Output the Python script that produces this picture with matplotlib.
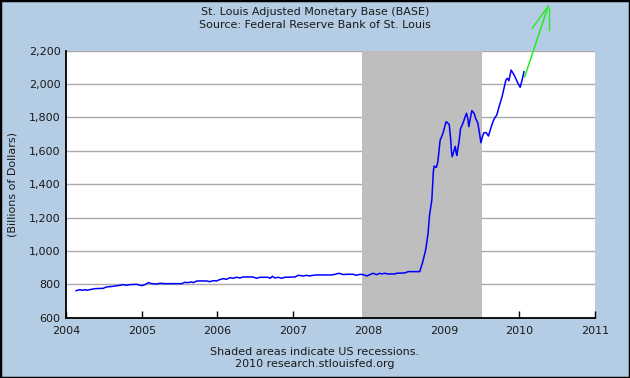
import matplotlib
matplotlib.use("Agg")
import matplotlib.pyplot as plt
from matplotlib.patches import Rectangle

# ---- data ----
years = [2004.13, 2004.18, 2004.21, 2004.25, 2004.27, 2004.31, 2004.38, 2004.49, 2004.53, 2004.62,
         2004.71, 2004.75, 2004.80, 2004.84, 2004.93, 2005.00, 2005.04, 2005.09, 2005.13, 2005.20,
         2005.24, 2005.31, 2005.53, 2005.57, 2005.61, 2005.66, 2005.68, 2005.73, 2005.86, 2005.90,
         2005.95, 2005.99, 2006.03, 2006.08, 2006.12, 2006.17, 2006.21, 2006.25, 2006.30, 2006.34,
         2006.47, 2006.52, 2006.56, 2006.67, 2006.70, 2006.73, 2006.76, 2006.81, 2006.85, 2006.89,
         2007.03, 2007.07, 2007.14, 2007.18, 2007.22, 2007.27, 2007.31, 2007.51, 2007.56, 2007.61,
         2007.67, 2007.71, 2007.80, 2007.84, 2007.89, 2007.93, 2007.98, 2008.02, 2008.06, 2008.11,
         2008.15, 2008.17, 2008.22, 2008.26, 2008.35, 2008.37, 2008.48, 2008.53, 2008.68, 2008.72,
         2008.76, 2008.79, 2008.81, 2008.84, 2008.86, 2008.87, 2008.90, 2008.92, 2008.95, 2008.97,
         2008.99, 2009.01, 2009.03, 2009.07, 2009.09, 2009.10, 2009.11, 2009.13, 2009.15, 2009.16,
         2009.17, 2009.20, 2009.22, 2009.25, 2009.28, 2009.30, 2009.32, 2009.33, 2009.35, 2009.37,
         2009.40, 2009.42, 2009.45, 2009.47, 2009.49, 2009.51, 2009.53, 2009.56, 2009.59, 2009.62,
         2009.65, 2009.67, 2009.70, 2009.73, 2009.77, 2009.82, 2009.84, 2009.86, 2009.89, 2009.93,
         2009.98, 2010.01, 2010.04, 2010.06]
base = [762, 768, 764, 768, 764, 768, 774, 776, 784, 788,
        794, 798, 794, 798, 800, 792, 798, 810, 804, 802,
        806, 804, 804, 812, 810, 814, 810, 820, 820, 816,
        822, 820, 828, 834, 830, 840, 836, 842, 838, 844,
        844, 836, 842, 842, 836, 848, 838, 842, 836, 842,
        844, 854, 850, 854, 850, 854, 856, 856, 860, 866,
        858, 860, 860, 854, 860, 858, 850, 858, 866, 858,
        866, 862, 866, 862, 862, 866, 868, 876, 876, 935,
        1010, 1105, 1215, 1305, 1474, 1508, 1500, 1534, 1663, 1684,
        1708, 1744, 1774, 1758, 1663, 1594, 1564, 1594, 1626, 1594,
        1572, 1652, 1732, 1762, 1802, 1824, 1784, 1744, 1794, 1840,
        1824, 1794, 1764, 1704, 1648, 1684, 1708, 1708, 1688, 1734,
        1774, 1794, 1814, 1863, 1923, 2023, 2033, 2019, 2083, 2053,
        2004, 1980, 2033, 2073]

# hand-drawn green arrow annotation
arrow_years = [2010.07, 2010.38]
arrow_vals = [2043, 2465]
barb_left_years = [2010.17, 2010.38]
barb_left_vals = [2333, 2465]
barb_right_years = [2010.39, 2010.39]
barb_right_vals = [2453, 2323]

recession = (2007.917, 2009.5)
xticks = [2004, 2005, 2006, 2007, 2008, 2009, 2010, 2011]
yticks = [600, 800, 1000, 1200, 1400, 1600, 1800, 2000, 2200]
ytick_labels = ["600", "800", "1,000", "1,200", "1,400", "1,600", "1,800", "2,000", "2,200"]

title1 = "St. Louis Adjusted Monetary Base (BASE)"
title2 = "Source: Federal Reserve Bank of St. Louis"
foot1 = "Shaded areas indicate US recessions."
foot2 = "2010 research.stlouisfed.org"
ylabel = "(Billions of Dollars)"

# ---- figure ----
bg = "#B4CCE4"
txt = "#1a1a1a"
plt.rcParams["font.family"] = ["DejaVu Sans"]
fig = plt.figure(figsize=(6.3, 3.78), dpi=100, facecolor=bg)
ax = fig.add_axes([0.1052, 0.1595, 0.8392, 0.7069])
ax.set_facecolor("white")

ax.set_xlim(2004, 2011)
ax.set_ylim(600, 2200)

for v in yticks[1:]:
    ax.axhline(v, color="#ABABAB", lw=1.0, zorder=1)
ax.axvspan(recession[0], recession[1], color="#BEBEBE", lw=0, zorder=2)

ax.plot(years, base, color="#0000FF", lw=1.1, zorder=3)
ax.plot(arrow_years, arrow_vals, color="#22EE22", lw=1.1, zorder=4, clip_on=False)
ax.plot(barb_left_years, barb_left_vals, color="#22EE22", lw=1.0, zorder=4, clip_on=False)
ax.plot(barb_right_years, barb_right_vals, color="#22EE22", lw=1.0, zorder=4, clip_on=False)

ax.set_xticks(xticks)
ax.set_xticklabels([str(x) for x in xticks])
ax.set_yticks(yticks)
ax.set_yticklabels(ytick_labels)
ax.tick_params(axis="x", direction="in", length=5, width=1, colors="black", labelcolor=txt,
               labelsize=8, pad=6)
ax.tick_params(axis="y", direction="in", length=0, labelcolor=txt, labelsize=8, pad=4)

for s in ["top", "right"]:
    ax.spines[s].set_visible(False)
for s in ["left", "bottom"]:
    ax.spines[s].set_color("black")
    ax.spines[s].set_linewidth(1.3)
    ax.spines[s].set_zorder(5)

ax.set_ylabel(ylabel, fontsize=8, color=txt)
ax.yaxis.set_label_coords(-0.0915, 0.5)

fig.text(0.5, 0.969, title1, ha="center", va="center", fontsize=8, color=txt)
fig.text(0.5, 0.934, title2, ha="center", va="center", fontsize=8, color=txt)
fig.text(0.5, 0.069, foot1, ha="center", va="center", fontsize=8, color=txt)
fig.text(0.5, 0.036, foot2, ha="center", va="center", fontsize=8, color=txt)

fig.patches.append(Rectangle((0, 0), 1, 1, transform=fig.transFigure, fill=False,
                             edgecolor="black", lw=2.5, zorder=10))

fig.savefig("out.png", dpi=100, facecolor=bg)
